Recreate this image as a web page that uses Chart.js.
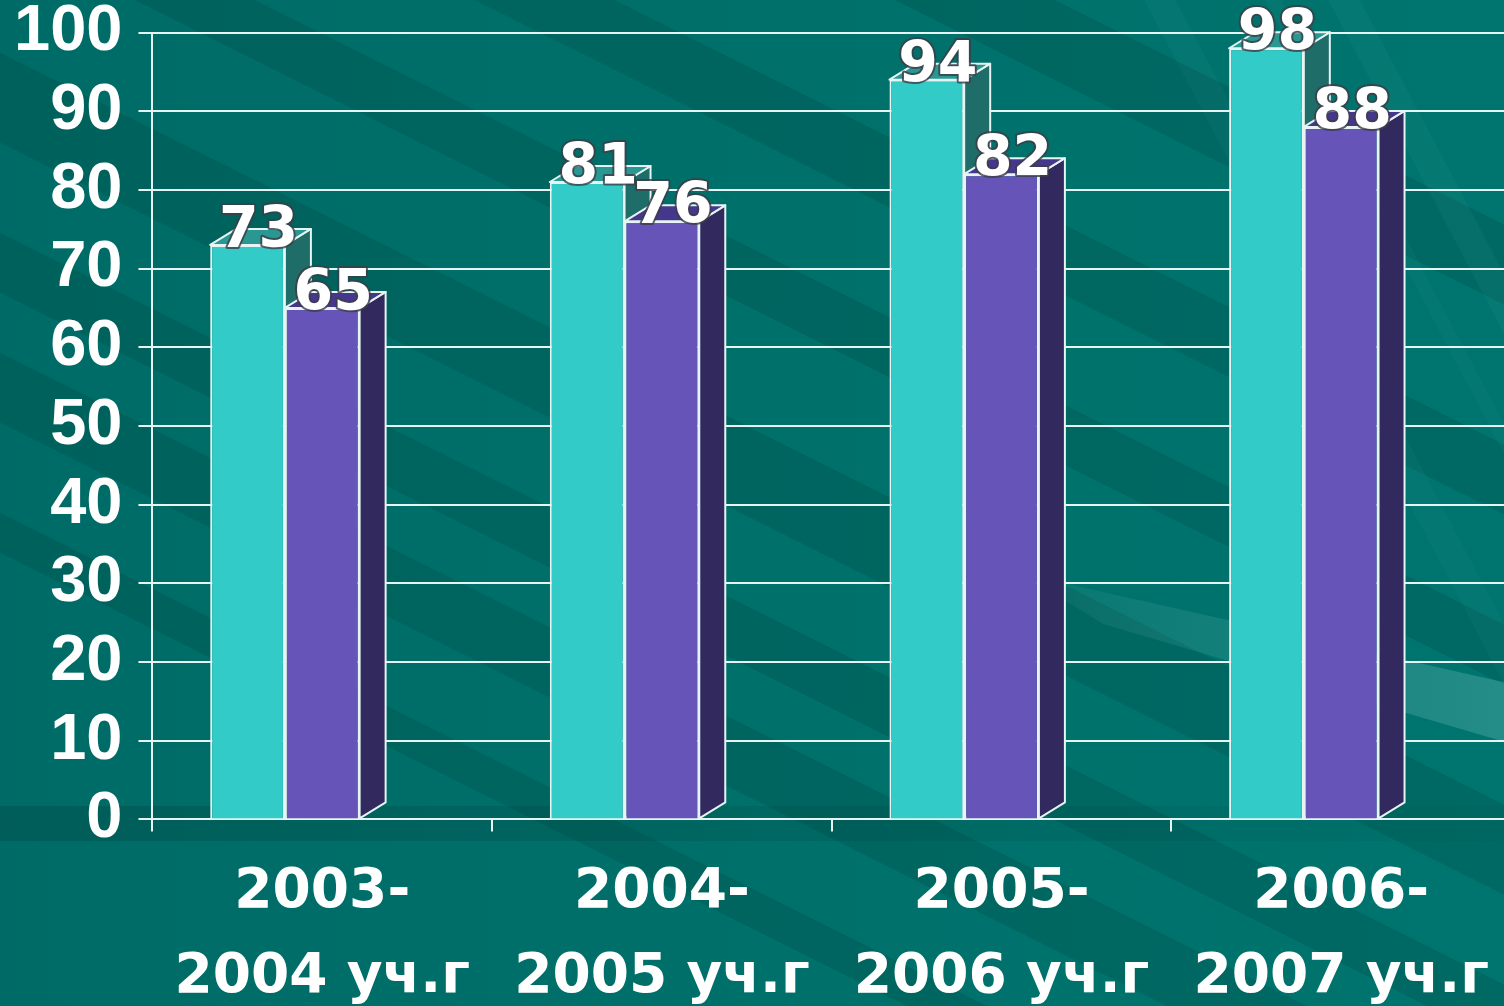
<!DOCTYPE html>
<html>
<head>
<meta charset="utf-8">
<script src="https://cdn.jsdelivr.net/npm/chart.js@4"></script>
<style>
html, body { margin: 0; padding: 0; overflow: hidden; background: #00706a; }
#wrap { width: 1529px; height: 1055px; margin: -16px 0 0 -17px; }
</style>
</head>
<body>
<div id="wrap"><canvas id="barChart"></canvas></div>
<script>
// data
const years = [
    ['2003-', '2004 уч.г'],
    ['2004-', '2005 уч.г'],
    ['2005-', '2006 уч.г'],
    ['2006-', '2007 уч.г']
];
const seriesA = [73, 81, 94, 98];
const seriesB = [65, 76, 82, 88];
const spacer = [0, 0, 0, 0]; // empty third slot, keeps the pair left of centre
const yMin = 0;
const yMax = 100;
const yStep = 10;

// 3d look
const DX = 26, DY = 16;
const EDGE = '#e6f4f3';

function drawFaces(chart, idx, sideColor, topColor) {
    const ctx = chart.ctx;
    const meta = chart.getDatasetMeta(idx);
    meta.data.forEach(function (bar) {
        const p = bar.getProps(['x', 'y', 'base', 'width'], true);
        const l = p.x - p.width / 2, r = p.x + p.width / 2;
        ctx.save();
        ctx.lineWidth = 2;
        ctx.strokeStyle = EDGE;
        ctx.lineJoin = 'round';
        // side
        ctx.beginPath();
        ctx.moveTo(r, p.base);
        ctx.lineTo(r + DX, p.base - DY);
        ctx.lineTo(r + DX, p.y - DY);
        ctx.lineTo(r, p.y);
        ctx.closePath();
        ctx.fillStyle = sideColor;
        ctx.fill();
        ctx.stroke();
        // top
        ctx.beginPath();
        ctx.moveTo(l, p.y);
        ctx.lineTo(l + DX, p.y - DY);
        ctx.lineTo(r + DX, p.y - DY);
        ctx.lineTo(r, p.y);
        ctx.closePath();
        ctx.fillStyle = topColor;
        ctx.fill();
        ctx.stroke();
        ctx.restore();
    });
}

function band(ctx, c1, c2, slope, color) {
    // strip between y = slope*x + c1 and y = slope*x + c2
    const W = 1600;
    ctx.beginPath();
    ctx.moveTo(0, c1);
    ctx.lineTo(W, slope * W + c1);
    ctx.lineTo(W, slope * W + c2);
    ctx.lineTo(0, c2);
    ctx.closePath();
    ctx.fillStyle = color;
    ctx.fill();
}

const bgPlugin = {
    id: 'bg',
    beforeDraw: function (chart) {
        const ctx = chart.ctx;
        const w = chart.width, h = chart.height;
        ctx.save();
        const g = ctx.createLinearGradient(0, 0, w, 0);
        g.addColorStop(0, '#006b66');
        g.addColorStop(1, '#00746e');
        ctx.fillStyle = g;
        ctx.fillRect(0, 0, w, h);
        // dark diagonal streaks
        const dark = 'rgba(0,55,52,0.18)';
        band(ctx, -520, -440, 0.5, dark);
        band(ctx, -300, -230, 0.5, dark);
        band(ctx, -120, -60, 0.5, dark);
        band(ctx, 60, 150, 0.5, dark);
        band(ctx, 240, 300, 0.5, dark);
        band(ctx, 360, 430, 0.5, dark);
        band(ctx, 520, 560, 0.5, dark);
        // lighter streaks on the right
        ctx.save();
        ctx.beginPath();
        ctx.rect(1000, 0, w - 1000, 820);
        ctx.clip();
        band(ctx, -2600, -2540, 1.9, 'rgba(60,170,165,0.1)');
        band(ctx, -2450, -2420, 1.9, 'rgba(60,170,165,0.08)');
        band(ctx, -2250, -2190, 1.9, 'rgba(60,170,165,0.08)');
        ctx.restore();
        const lg = ctx.createLinearGradient(1040, 0, w, 0);
        lg.addColorStop(0, 'rgba(150,215,210,0.05)');
        lg.addColorStop(1, 'rgba(150,215,210,0.25)');
        ctx.beginPath();
        ctx.moveTo(1040, 590);
        ctx.lineTo(w, 700);
        ctx.lineTo(w, 760);
        ctx.lineTo(1120, 640);
        ctx.closePath();
        ctx.fillStyle = lg;
        ctx.fill();
        // strip under the axis
        const s = ctx.createLinearGradient(0, 0, w, 0);
        s.addColorStop(0, 'rgba(0,50,48,0.25)');
        s.addColorStop(1, 'rgba(0,50,48,0.05)');
        ctx.fillStyle = s;
        ctx.fillRect(0, 822, w, 35);
        ctx.restore();
    },
    beforeDatasetsDraw: function (chart) {
        drawFaces(chart, 0, '#1f6d69', '#2a9892');
    },
    afterDatasetsDraw: function (chart) {
        drawFaces(chart, 1, '#322a5e', '#45388c');
        // value labels
        const ctx = chart.ctx;
        ctx.save();
        ctx.font = 'bold 57px "DejaVu Sans", sans-serif';
        ctx.textAlign = 'center';
        ctx.textBaseline = 'middle';
        ctx.lineJoin = 'round';
        [0, 1].forEach(function (idx) {
            const meta = chart.getDatasetMeta(idx);
            const vals = chart.data.datasets[idx].data;
            meta.data.forEach(function (bar, i) {
                const p = bar.getProps(['x', 'y'], true);
                const tx = p.x + 11, ty = p.y - 13;
                ctx.lineWidth = 4;
                ctx.strokeStyle = 'rgba(60,60,70,0.8)';
                ctx.strokeText(vals[i], tx, ty);
                ctx.fillStyle = '#ffffff';
                ctx.fillText(vals[i], tx, ty);
            });
        });
        ctx.restore();
    }
};

const ctx = document.getElementById('barChart');
const chart = new Chart(ctx, {
    type: 'bar',
    data: {
        labels: years,
        datasets: [{
            data: seriesA,
            backgroundColor: '#33cbc8',
            borderColor: EDGE,
            borderWidth: 2
        }, {
            data: seriesB,
            backgroundColor: '#6654b8',
            borderColor: EDGE,
            borderWidth: 2
        }, {
            data: spacer,
            backgroundColor: 'rgba(0,0,0,0)',
            borderWidth: 0
        }]
    },
    options: {
        responsive: true,
        maintainAspectRatio: false,
        animation: false,
        layout: { padding: { left: 15, right: 1, top: 1, bottom: 0 } },
        datasets: { bar: { barPercentage: 1, categoryPercentage: 0.66 } },
        plugins: {
            legend: { display: false },
            tooltip: { enabled: false }
        },
        scales: {
            x: {
                grid: {
                    drawOnChartArea: false,
                    color: EDGE,
                    lineWidth: 2,
                    tickLength: 12
                },
                border: { color: EDGE, width: 2 },
                ticks: {
                    color: '#ffffff',
                    padding: 18,
                    maxRotation: 0,
                    autoSkip: false,
                    font: { family: '"DejaVu Sans", sans-serif', size: 55, weight: 'bold', lineHeight: 1.56 }
                }
            },
            y: {
                min: yMin,
                max: yMax,
                grid: {
                    color: EDGE,
                    lineWidth: 2,
                    tickLength: 14
                },
                border: { color: EDGE, width: 2 },
                ticks: {
                    stepSize: yStep,
                    color: '#ffffff',
                    padding: 16,
                    font: { family: '"Liberation Sans", Arial, sans-serif', size: 65, weight: 'bold', lineHeight: 1 }
                }
            }
        }
    },
    plugins: [bgPlugin]
});
</script>
</body>
</html>
